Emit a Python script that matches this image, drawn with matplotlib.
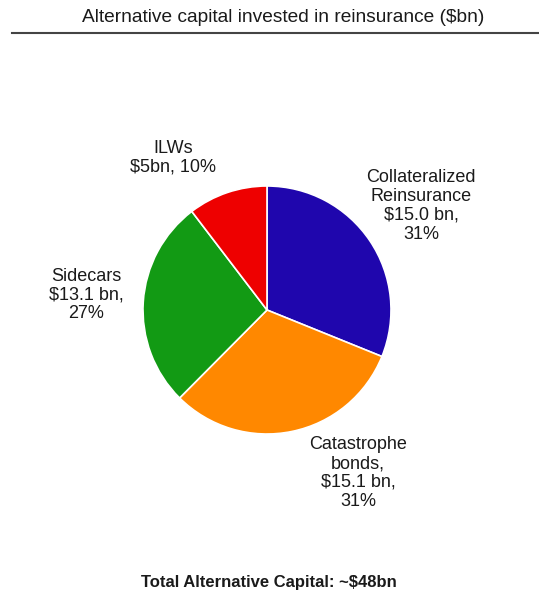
import matplotlib
matplotlib.use("Agg")
import matplotlib.pyplot as plt
from matplotlib.lines import Line2D

plt.rcParams['font.family'] = ['Liberation Sans', 'DejaVu Sans']

categories = ["Collateralized Reinsurance", "Catastrophe bonds", "Sidecars", "ILWs"]
values = [15.0, 15.1, 13.1, 5.0]
labels = ["Collateralized\nReinsurance\n$15.0 bn,\n31%",
          "Catastrophe\nbonds,\n$15.1 bn,\n31%",
          "Sidecars\n$13.1 bn,\n27%",
          "ILWs\n$5bn, 10%"]
colors = ["#1f06ad", "#ff8800", "#129a14", "#ee0000"]
title = "Alternative capital invested in reinsurance ($bn)"
footer = "Total Alternative Capital: ~$48bn"

W, H = 539, 599
fig = plt.figure(figsize=(W / 100, H / 100), dpi=100)
ax = fig.add_axes([0, 0, 1, 1])
cx, cy, s = 267, 310, 124

ax.pie(values, colors=colors, startangle=90, counterclock=False, radius=1,
       wedgeprops=dict(edgecolor="white", linewidth=1.2))
ax.set_aspect("auto")
ax.set_xlim((0 - cx) / s, (W - cx) / s)
ax.set_ylim((cy - H) / s, cy / s)
ax.axis("off")

label_pos = [(421, 206), (358, 473), (86, 295), (173, 158)]
for lab, (px, py) in zip(labels, label_pos):
    ax.text((px - cx) / s, (cy - py) / s, lab, ha="center", va="center",
            fontsize=13, color="#1a1a1a", linespacing=1.15)

fig.text(283 / W, 1 - 17 / H, title, ha="center", va="center", fontsize=13.8, color="#1a1a1a")
fig.add_artist(Line2D([12 / W, 1], [1 - 33 / H, 1 - 33 / H], color="#444444", linewidth=1.5,
                      transform=fig.transFigure))
fig.text(269 / W, 1 - 583 / H, footer, ha="center", va="center", fontsize=12,
         fontweight="bold", color="#1a1a1a")

fig.savefig("out.png", dpi=100)
